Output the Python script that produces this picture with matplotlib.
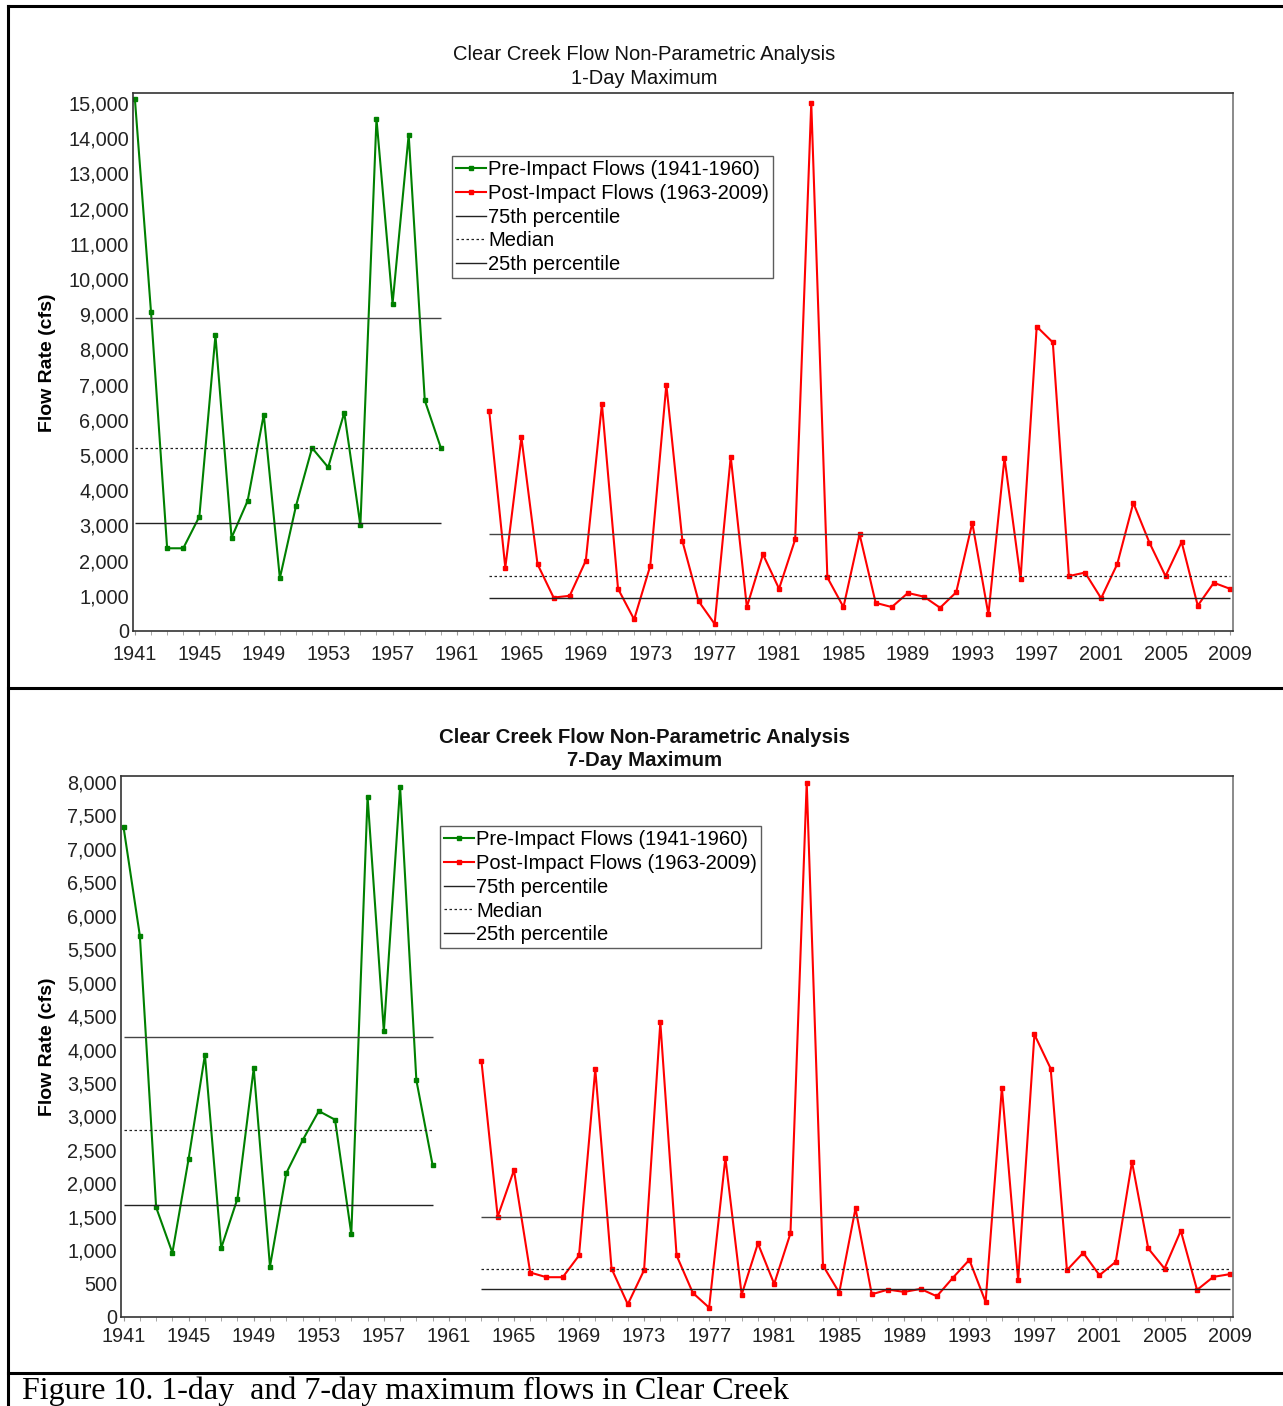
import numpy as np
import matplotlib
matplotlib.use("Agg")
import matplotlib.pyplot as plt
from matplotlib.lines import Line2D
from matplotlib.ticker import FuncFormatter, MultipleLocator

plt.rcParams['font.family'] = ['Liberation Sans', 'DejaVu Sans']

# Years
pre_years = list(range(1941, 1961))
post_years = list(range(1963, 2010))

# 1-day maximum flows (cfs)
pre_1day = [15100, 9050, 2350, 2350, 3250, 8400, 2650, 3700, 6150, 1500,
            3550, 5200, 4650, 6200, 3000, 14550, 9300, 14100, 6550, 5200]
post_1day = [6250, 1800, 5500, 1900, 950, 1000, 2000, 6450, 1200, 330,
             1850, 7000, 2550, 850, 200, 4950, 680, 2180, 1200, 2600,
             15000, 1520, 680, 2750, 800, 680, 1080, 975, 660, 1100,
             3070, 470, 4920, 1480, 8650, 8200, 1560, 1660, 930, 1900,
             3640, 2510, 1560, 2530, 720, 1370, 1200]

# 7-day maximum flows (cfs)
pre_7day = [7320, 5700, 1640, 960, 2370, 3920, 1030, 1770, 3720, 755,
            2150, 2640, 3080, 2950, 1240, 7780, 4270, 7930, 3540, 2270]
post_7day = [3830, 1500, 2195, 665, 595, 595, 920, 3705, 725, 190,
             700, 4405, 920, 360, 140, 2380, 333, 1100, 495, 1250,
             7990, 770, 365, 1625, 340, 410, 375, 420, 310, 590,
             855, 225, 3430, 550, 4225, 3715, 700, 960, 625, 825,
             2320, 1025, 725, 1290, 405, 600, 640]

W, H = 1283, 1406
fig = plt.figure(figsize=(W / 100, H / 100), dpi=100)


def px_axes(left, top, right, bottom):
    # axes rectangle given in pixel coords of the picture
    return fig.add_axes([left / W, 1 - bottom / H, (right - left) / W, (bottom - top) / H])


def draw_panel(ax, years_a, vals_a, years_b, vals_b, ylim, ystep, title2, bold,
               title_y, leg_pos, xlim, xpad):
    pre_line, = ax.plot(years_a, vals_a, color='#008000', lw=1.5, marker='s',
                        ms=3.5, label='Pre-Impact Flows (1941-1960)')
    post_line, = ax.plot(years_b, vals_b, color='#ff0000', lw=1.5, marker='s',
                         ms=3.5, label='Post-Impact Flows (1963-2009)')

    # percentile lines for each period (Weibull / exclusive percentiles)
    for yrs, vals in [(years_a, vals_a), (years_b, vals_b)]:
        p25, p50, p75 = np.percentile(vals, [25, 50, 75], method='weibull')
        ax.hlines(p75, yrs[0], yrs[-1], color='#444444', lw=1.0)
        ax.hlines(p50, yrs[0], yrs[-1], color='#222222', lw=0.9,
                  linestyles=(0, (2, 2)))
        ax.hlines(p25, yrs[0], yrs[-1], color='#222222', lw=1.0)

    leg_handles = [pre_line, post_line,
                   Line2D([], [], color='#222222', lw=1.0),
                   Line2D([], [], color='#222222', lw=0.9, ls=(0, (2, 2))),
                   Line2D([], [], color='#222222', lw=1.0)]
    leg_labels = ['Pre-Impact Flows (1941-1960)', 'Post-Impact Flows (1963-2009)',
                  '75th percentile', 'Median', '25th percentile']
    leg = ax.legend(leg_handles, leg_labels, loc='upper left', bbox_to_anchor=leg_pos,
                    fontsize=14.5, frameon=True, fancybox=False, borderpad=0.2,
                    labelspacing=0.24, handlelength=1.5, handletextpad=0.1,
                    borderaxespad=0)
    leg.get_frame().set_edgecolor('#333333')
    leg.get_frame().set_linewidth(1.0)

    ax.set_xlim(*xlim)
    ax.set_ylim(*ylim)
    ax.xaxis.set_minor_locator(MultipleLocator(1))
    ax.set_xticks(list(range(1941, 2010, 4)))
    ax.yaxis.set_major_locator(MultipleLocator(ystep))
    ax.yaxis.set_major_formatter(FuncFormatter(lambda v, p: f'{int(v):,}'))
    ax.tick_params(axis='both', labelsize=14.3, colors='#222222', length=0, pad=3)
    ax.tick_params(axis='x', which='both', length=3, color='#999999', pad=xpad)
    for sp in ax.spines.values():
        sp.set_color('#333333')
        sp.set_linewidth(1.2)
    ax.spines['right'].set_color('#777777')

    # titles
    weight = 'bold' if bold else 'normal'
    size = 14.7 if bold else 14.5
    fig.text(0.5 + 3 / W, 1 - title_y / H, 'Clear Creek Flow Non-Parametric Analysis',
             ha='center', va='center', fontsize=size, fontweight=weight, color='#111111')
    fig.text(0.5 + 3 / W, 1 - (title_y + 24) / H, title2,
             ha='center', va='center', fontsize=size, fontweight=weight, color='#111111')


# 1-day panel
ax1 = px_axes(133, 93, 1233, 631)
draw_panel(ax1, pre_years, pre_1day, post_years, post_1day, (0, 15284), 1000,
           '1-Day Maximum', False, 55, (0.29, 0.883), (1940.88, 2009.19), 7)
fig.text(48 / W, 1 - 363 / H, 'Flow Rate (cfs)', rotation=90, ha='center', va='center',
         fontsize=14, fontweight='bold')

# 7-day panel
ax2 = px_axes(121, 776, 1233, 1317)
draw_panel(ax2, pre_years, pre_7day, post_years, post_7day, (0, 8090), 500,
           '7-Day Maximum', True, 737, (0.287, 0.9076), (1940.84, 2009.21), 4)
fig.text(48 / W, 1 - 1047 / H, 'Flow Rate (cfs)', rotation=90, ha='center', va='center',
         fontsize=14, fontweight='bold')

# document table borders
for y in [6, 688, 1373]:
    fig.add_artist(Line2D([8 / W, 1], [1 - y / H, 1 - y / H], color='black', lw=2.2))
fig.add_artist(Line2D([8 / W, 8 / W], [0, 1 - 6 / H], color='black', lw=2.2))

fig.text(22 / W, 1 - 1391 / H, 'Figure 10. 1-day  and 7-day maximum flows in Clear Creek',
         ha='left', va='center', fontsize=23, family='Liberation Serif')

fig.savefig('out.png', dpi=100)
